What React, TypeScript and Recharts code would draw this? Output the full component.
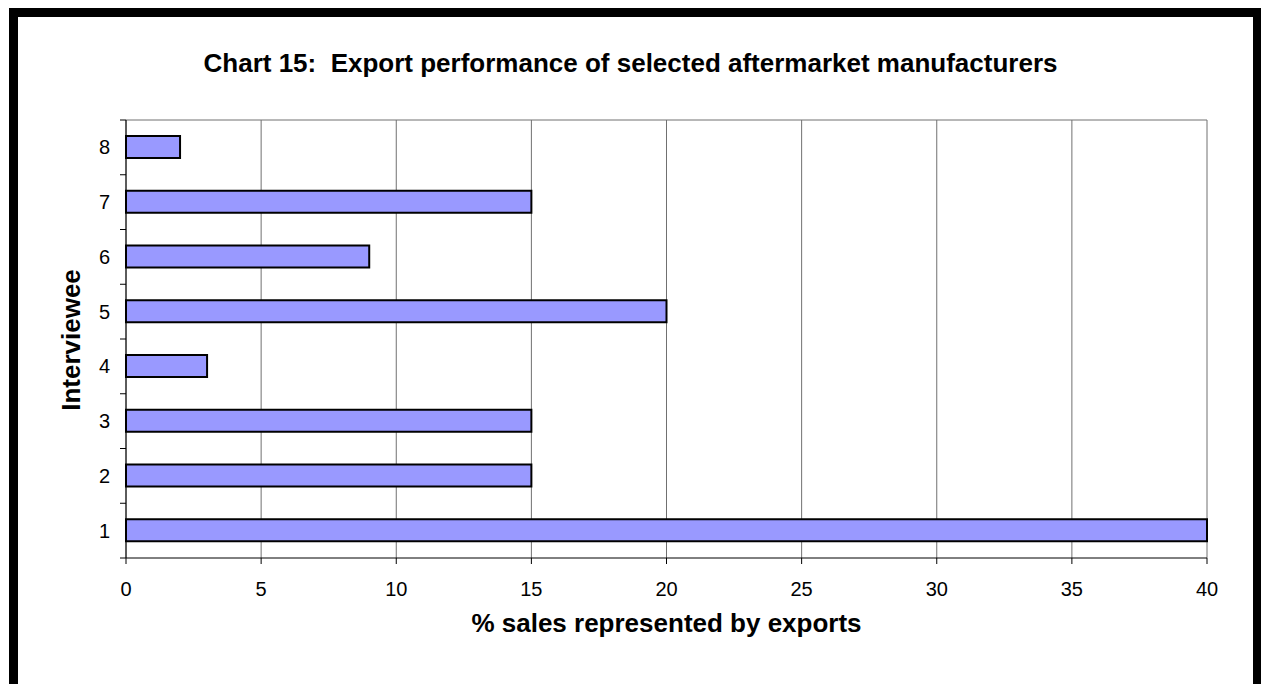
import React from 'react';
import { BarChart, Bar, XAxis, YAxis, CartesianGrid } from 'recharts';

const interviewees = ['1', '2', '3', '4', '5', '6', '7', '8'];
const exportShare = [40, 15, 15, 3, 20, 9, 15, 2];
const xTicks = [0, 5, 10, 15, 20, 25, 30, 35, 40];

const data = interviewees.map((name, i) => ({ name, value: exportShare[i] }));

const FONT = '"Liberation Sans", Arial, sans-serif';

// category tick: label at the band centre, tick marks at the band edges
const YTick = (props: any) => {
  const { x, y, payload, index } = props;
  const off = payload.offset || 0;
  return (
    <g>
      <text x={x} y={y} dy="0.35em" textAnchor="end" fontSize={20} fill="#000" fontFamily={FONT}>
        {payload.value}
      </text>
      <line x1={x + 10} x2={x + 16} y1={y + off} y2={y + off} stroke="#000" />
      {index === interviewees.length - 1 && (
        <line x1={x + 10} x2={x + 16} y1={y - off} y2={y - off} stroke="#000" />
      )}
    </g>
  );
};

export default function App() {
  return (
    <div style={{ position: 'fixed', left: 0, top: 0, width: 1261, height: 684, overflow: 'hidden', background: '#fff', fontFamily: FONT }}>
      <div style={{ position: 'absolute', left: 9, top: 8, width: 1253, height: 720, border: '9px solid #000', boxSizing: 'border-box' }} />
      <div style={{ position: 'absolute', left: 0, top: 48, width: 1261, textAlign: 'center', fontSize: 26, fontWeight: 'bold', whiteSpace: 'pre' }}>
        {'Chart 15:  Export performance of selected aftermarket manufacturers'}
      </div>
      <div style={{ position: 'absolute', left: 126, width: 1081, top: 608, textAlign: 'center', fontSize: 26, fontWeight: 'bold' }}>
        % sales represented by exports
      </div>
      <div style={{ position: 'absolute', left: 71, top: 340, transform: 'translate(-50%, -50%) rotate(-90deg)', fontSize: 26, fontWeight: 'bold', whiteSpace: 'nowrap' }}>
        Interviewee
      </div>
      <div style={{ position: 'absolute', left: 0, top: 0 }}>
        <BarChart
          width={1261}
          height={684}
          data={data}
          layout="vertical"
          margin={{ top: 120, right: 54, left: 66, bottom: 66 }}
        >
          <CartesianGrid
            stroke="#707070"
            horizontalCoordinatesGenerator={({ offset }: any) => [offset.top]}
          />
          <XAxis
            type="number"
            domain={[0, 40]}
            ticks={xTicks}
            height={60}
            stroke="#000"
            tickSize={6}
            tickMargin={18}
            tick={{ fontSize: 20, fill: '#000', fontFamily: FONT }}
          />
          <YAxis
            type="category"
            dataKey="name"
            reversed
            width={60}
            stroke="#000"
            tickSize={6}
            tickMargin={10}
            tickLine={false}
            tick={<YTick />}
          />
          <Bar dataKey="value" barSize={22} fill="#9999FF" stroke="#000" strokeWidth={2} isAnimationActive={false} />
        </BarChart>
      </div>
    </div>
  );
}
